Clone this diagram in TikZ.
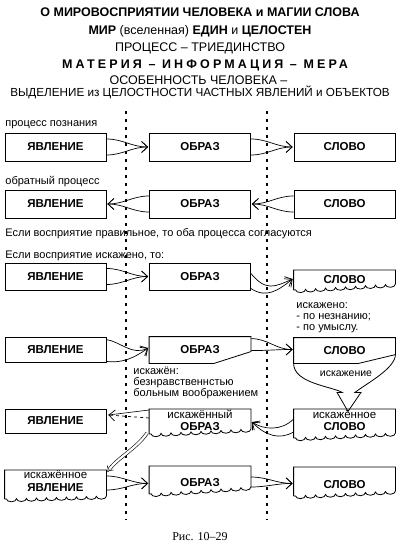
\documentclass[tikz,border=0pt]{standalone}
\usepackage{fontspec}
\setmainfont{Liberation Sans}
\newfontfamily\capfont{Liberation Serif}
\usetikzlibrary{arrows.meta,calc,decorations.pathmorphing}

% box with a torn lower edge: node, drop at the left, drop at the right
\newcommand\tornbox[3]{%
  \draw ($(#1.north west)+(0,#2)$) -- (#1.north west) -- (#1.north east) -- ($(#1.north east)+(0,#3)$)
    decorate[decoration={bumps,amplitude=3pt,segment length=20pt}] {-- ($(#1.north west)+(0,#2)$)};}

\begin{document}
\begin{tikzpicture}[x=1pt, y=-1pt, line width=.8pt,
    box/.style={draw, minimum width=101pt, minimum height=28pt, inner sep=0pt, align=center,
                font=\fontsize{11.5}{13}\selectfont\bfseries},
    bare/.style={box, draw=none},
    head/.style={anchor=base, inner sep=0pt, font=\fontsize{12.5}{13}\selectfont},
    txt/.style={anchor=base west, inner sep=0pt, font=\fontsize{11}{12}\selectfont},
    note/.style={anchor=north west, inner sep=0pt, align=left, font=\fontsize{11}{11}\selectfont},
    fun/.style={line width=.7pt, -{Straight Barb[length=6pt,width=11pt]}},
    sep/.style={line width=2pt, dash pattern=on 3pt off 5pt}]

\useasboundingbox (0,0) rectangle (400,553);

% heading
\node[head] (h1) at (200,16.7) {\bfseries О МИРОВОСПРИЯТИИ ЧЕЛОВЕКА и МАГИИ СЛОВА};
\node[head] (h2) at (200,35) {\textbf{МИР} (вселенная) \textbf{ЕДИН} и \textbf{ЦЕЛОСТЕН}};
\node[head] (h3) at (200,51.7) {ПРОЦЕСС – ТРИЕДИНСТВО};
\node[head] (h4) at (205,68.3) {\bfseries\addfontfeature{LetterSpace=25}МАТЕРИЯ – ИНФОРМАЦИЯ – МЕРА};
\node[head] (h5) at (198.5,85) {ОСОБЕННОСТЬ ЧЕЛОВЕКА –};
\node[head, font=\fontsize{11.7}{13}\selectfont] (h6) at (200,96.7) {ВЫДЕЛЕНИЕ из ЦЕЛОСТНОСТИ ЧАСТНЫХ ЯВЛЕНИЙ и ОБЪЕКТОВ};

% dotted borders
\draw[sep] (126,111) -- (126,520);
\draw[sep] (267,111) -- (267,520);

% row 1 and row 2
\node[txt] (lbl1) at (5,127) {процесс познания};
\node[box] (jav1) at (55.5,147) {ЯВЛЕНИЕ};
\node[box] (obr1) at (200,147) {ОБРАЗ};
\node[box] (slo1) at (344.5,147) {СЛОВО};

\node[txt] (lbl2) at (5,185) {обратный процесс};
\node[box] (jav2) at (55.5,204) {ЯВЛЕНИЕ};
\node[box] (obr2) at (200,204) {ОБРАЗ};
\node[box] (slo2) at (344.5,204) {СЛОВО};

\foreach \a/\b in {jav1/obr1, obr1/slo1}
  \foreach \d in {-8,8}
    \draw[fun] ($(\a.east)+(0,\d)$) to[out=0,in=180] ($(\b.west)+(-1,0)$);
\foreach \a/\b in {obr2/jav2, slo2/obr2}
  \foreach \d in {-8,8}
    \draw[fun] ($(\a.west)+(0,\d)$) to[out=180,in=0] ($(\b.east)+(1,0)$);

\node[txt] (lbl3) at (5,236) {Если восприятие правильное, то оба процесса согласуются};
\node[txt] (lbl4) at (5,258) {Если восприятие искажено, то:};

% row 3
\node[box, minimum height=27pt] (jav3) at (55.5,276.5) {ЯВЛЕНИЕ};
\node[box, minimum height=27pt] (obr3) at (200,276.5) {ОБРАЗ};
\node[bare, minimum height=18pt, anchor=north] (slo3) at (344.5,270) {СЛОВО};
\tornbox{slo3}{20}{14}
\node[note] (why3) at (296,302) {искажено:\\- по незнанию;\\- по умыслу.};

\foreach \d in {-8,8}
  \draw[fun] ($(jav3.east)+(0,\d)$) to[out=0,in=180] ($(obr3.west)+(-1,0)$);
\draw[fun] ($(obr3.east)+(0,-3)$) .. controls +(15,18) and +(-18,8) .. ($(slo3.north west)+(-1,9)$);
\draw[fun] ($(obr3.east)+(0,12)$) .. controls +(15,10) and +(-15,12) .. ($(slo3.north west)+(-1,9)$);

% row 4
\node[box, minimum height=25pt] (jav4) at (55.5,349.5) {ЯВЛЕНИЕ};
\node[bare, minimum height=26pt] (obr4) at (200,350) {ОБРАЗ};
\draw (obr4.south west) -- (obr4.north west) -- (obr4.north east) -- ++(0,15)
  -- ($(obr4.south west)+(65,0)$) -- cycle;
\node[bare, minimum height=25pt] (slo4) at (344.5,350.5) {СЛОВО};
\draw (slo4.south west) -- (slo4.north west) -- (slo4.north east) -- ++(0,17)
  -- ($(slo4.south west)+(65,0)$) -- cycle;
\coordinate (dtip) at ($(slo4.south)+(3.5,48)$);
\draw (slo4.south west) .. controls +(0,20) and +(-10,-6) .. ($(dtip)+(-6,-19)$) -- ++(-5,0) -- (dtip)
  -- ($(dtip)+(13,-19)$) -- ++(-6,0) .. controls +(10,-8) and +(0,14) .. ($(slo4.north east)+(0,17)$);
\node[inner sep=0pt, font=\fontsize{10.5}{11}\selectfont] (dist) at (346,374) {искажение};
\node[note] (why4) at (133,367) {искажён:\\безнравственнстью\\больным воображением};

\draw[fun] ($(jav4.north east)+(0,3)$) .. controls +(14,2) and +(-16,8) .. ($(obr4.west)+(-1,-2)$);
\draw[fun] ($(jav4.south east)+(0,-1)$) .. controls +(16,2) and +(-14,10) .. ($(obr4.west)+(-1,-2)$);
\foreach \d in {2,14}
  \draw[fun] ($(obr4.north east)+(0,\d)$) to[out=0,in=180] ($(slo4.west)+(-1,-1)$);

% row 5
\node[box, minimum height=24pt] (jav5) at (55.5,421) {ЯВЛЕНИЕ};
\node[bare, minimum height=22pt, anchor=north,
      font=\fontsize{11.5}{12}\selectfont\bfseries] (obr5) at (200,409) {\mdseries искажённый\\ОБРАЗ};
\tornbox{obr5}{25}{20}
\node[bare, minimum height=22pt, anchor=north,
      font=\fontsize{11.5}{12}\selectfont\bfseries] (slo5) at (344.5,409) {\mdseries искажённое\\СЛОВО};
\tornbox{slo5}{29}{24}

\coordinate (tip5) at ($(jav5.east)+(2,-6)$);
\draw[line width=.6pt] ($(obr5.north west)+(0,1)$) -- (tip5);
\draw[fun, dashed] ($(obr5.north west)+(0,9)$) -- (tip5);
\draw[fun] ($(slo5.north west)+(0,10)$) .. controls +(-12,12) and +(12,8) .. ($(obr5.north east)+(1,13)$);
\draw[fun] ($(slo5.north west)+(0,23)$) .. controls +(-14,8) and +(14,14) .. ($(obr5.north east)+(1,13)$);

% row 6
\node[bare, minimum height=27pt, anchor=north, text depth=9pt] (jav6) at (55.5,470) {\mdseries искажённое\\ЯВЛЕНИЕ};
\tornbox{jav6}{29}{26}
\node[bare, minimum height=32pt, anchor=north] (obr6) at (200,466) {ОБРАЗ};
\tornbox{obr6}{28}{21}
\node[bare, minimum height=34pt, anchor=north] (slo6) at (344.5,467) {СЛОВО};
\tornbox{slo6}{29}{24}

\draw[double, double distance=2.2pt, line width=.6pt, -{Implies}] ($(obr5.north west)+(-2,24)$)
  .. controls +(-10,15) and +(10,-14) .. ($(jav6.north east)+(1,2)$);
\foreach \d in {6,20}
  \draw[fun] ($(jav6.north east)+(0,\d)$) to[out=0,in=180] ($(obr6.west)+(-1,1)$);
\foreach \d in {11,21}
  \draw[fun] ($(obr6.north east)+(0,\d)$) to[out=0,in=180] ($(slo6.west)+(-1,-1)$);

\node[font=\capfont\fontsize{12}{12}\selectfont] (cap) at (200,537) {Рис. 10–29};
\end{tikzpicture}
\end{document}
